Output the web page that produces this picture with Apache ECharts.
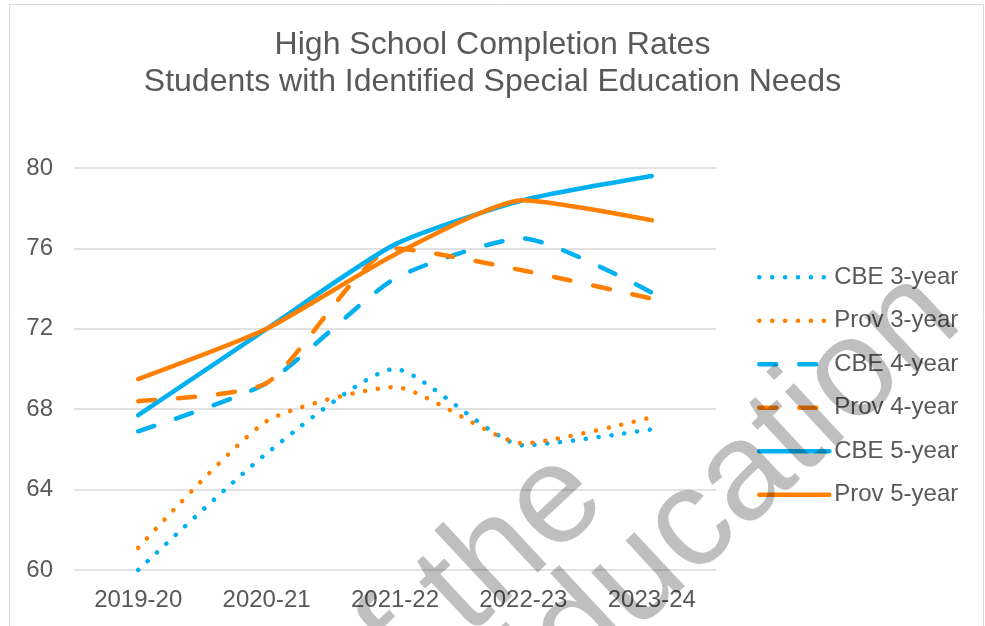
<!DOCTYPE html>
<html>
<head>
<meta charset="utf-8">
<script src="https://cdn.jsdelivr.net/npm/echarts@6/dist/echarts.min.js"></script>
<style>
html,body{margin:0;padding:0;background:#fff;}
#chart{width:985px;height:626px;}
</style>
</head>
<body>
<div id="chart"></div>
<script>
const categories = ['2019-20', '2020-21', '2021-22', '2022-23', '2023-24'];
const cbe3 = [60.0, 65.8, 70.0, 66.2, 67.0];
const prov3 = [61.1, 67.4, 69.1, 66.3, 67.6];
const cbe4 = [66.9, 69.3, 74.5, 76.5, 73.8];
const prov4 = [68.4, 69.3, 76.0, 74.9, 73.5];
const cbe5 = [67.7, 72.0, 76.2, 78.4, 79.6];
const prov5 = [69.5, 72.0, 75.7, 78.4, 77.4];
const seriesNames = ['CBE 3-year', 'Prov 3-year', 'CBE 4-year', 'Prov 4-year', 'CBE 5-year', 'Prov 5-year'];
const titleLines = ['High School Completion Rates', 'Students with Identified Special Education Needs'];
const watermarkLines = ['of the', 'Education'];

const BLUE = '#00B0F0';
const ORANGE = '#FF8000';
const FONT = '"Liberation Sans", Arial, sans-serif';
const DOT = [0.1, 12.8];
const DASH = [17, 23];

function mk(name, data, color, type) {
  return {
    name: name, type: 'line', data: data, smooth: 0.2,
    symbol: 'none', showSymbol: false,
    lineStyle: { color: color, width: 4.5, type: type, cap: 'round', join: 'round' },
    itemStyle: { color: color },
    emphasis: { disabled: true }
  };
}

const ang = 43 * Math.PI / 180;
const up = [-Math.sin(ang), -Math.cos(ang)];
const wmFont = 140;
function wmAnchor(px, py) {
  const k = 0.3465 * wmFont;
  return [px + up[0] * k, py + up[1] * k];
}
const a1 = wmAnchor(617, 512);
const a2 = wmAnchor(972, 332);

const chart = echarts.init(document.getElementById('chart'), null, { renderer: 'canvas' });
chart.setOption({
  animation: false,
  backgroundColor: '#ffffff',
  title: {
    text: titleLines.join('\n'),
    left: 'center',
    top: 26.5,
    padding: [0, 0, 0, 20],
    textStyle: { fontFamily: FONT, fontSize: 32, fontWeight: 'normal', color: '#595959', lineHeight: 37 }
  },
  legend: {
    orient: 'vertical',
    left: 752,
    top: 260.2,
    itemWidth: 70,
    itemHeight: 14,
    itemGap: 19.5,
    data: seriesNames,
    textStyle: { fontFamily: FONT, fontSize: 24, color: '#595959', lineHeight: 23 },
    itemStyle: { opacity: 0 },
    lineStyle: { width: 4.5 }
  },
  grid: { left: 74, right: 269, top: 168, bottom: 56, containLabel: false },
  xAxis: {
    type: 'category',
    data: categories,
    boundaryGap: true,
    axisLine: { show: false },
    axisTick: { show: false },
    axisLabel: { fontFamily: FONT, fontSize: 24, color: '#595959', margin: 18 }
  },
  yAxis: {
    type: 'value',
    min: 60, max: 80, interval: 4,
    axisLine: { show: false },
    axisTick: { show: false },
    axisLabel: { fontFamily: FONT, fontSize: 24, color: '#595959', margin: 21 },
    splitLine: { lineStyle: { color: '#d9d9d9', width: 1.5 } }
  },
  series: [
    mk(seriesNames[0], cbe3, BLUE, DOT),
    mk(seriesNames[1], prov3, ORANGE, DOT),
    mk(seriesNames[2], cbe4, BLUE, DASH),
    mk(seriesNames[3], prov4, ORANGE, DASH),
    mk(seriesNames[4], cbe5, BLUE, 'solid'),
    mk(seriesNames[5], prov5, ORANGE, 'solid')
  ],
  graphic: [
    { type: 'rect', silent: true, z: -10,
      shape: { x: 9.5, y: 4.5, width: 974, height: 700 },
      style: { fill: 'none', stroke: '#d9d9d9', lineWidth: 1 } },
    { type: 'text', silent: true, z: 100, x: a1[0], y: a1[1], rotation: ang,
      style: { text: watermarkLines[0], font: wmFont + 'px ' + FONT, fill: 'rgba(0,0,0,0.25)',
               textAlign: 'right', textVerticalAlign: 'middle', align: 'right', verticalAlign: 'middle' } },
    { type: 'text', silent: true, z: 100, x: a2[0], y: a2[1], rotation: ang,
      style: { text: watermarkLines[1], font: wmFont + 'px ' + FONT, fill: 'rgba(0,0,0,0.25)',
               textAlign: 'right', textVerticalAlign: 'middle', align: 'right', verticalAlign: 'middle' } }
  ]
});
</script>
</body>
</html>
